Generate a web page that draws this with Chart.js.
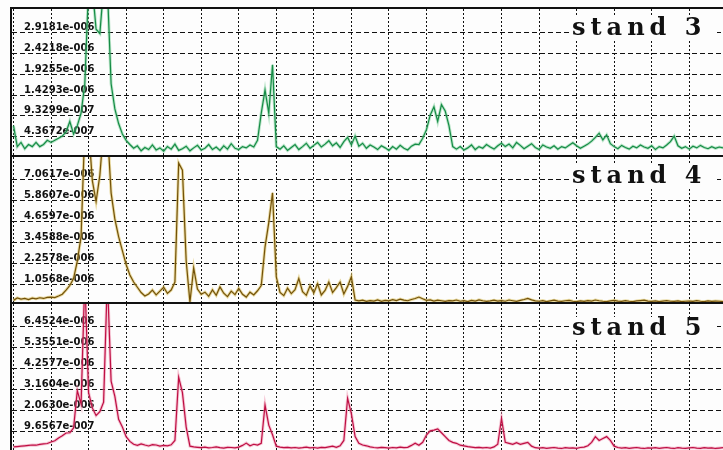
<!DOCTYPE html>
<html lang="en">
<head>
  <meta charset="UTF-8">
  <title>stand 3 / 4 / 5</title>
  <script src="https://cdn.jsdelivr.net/npm/chart.js"></script>
  <style>
    body { margin: 0; background: #fff; }
    #wrap { position: relative; width: 723px; height: 450px; overflow: hidden; background: #fdfdfd; }
    #wrap canvas { position: absolute; left: 12px; }
    .rule { position: absolute; background: #111; }
  </style>
</head>
<body>
<div id="wrap">
  <canvas id="p3" width="711" height="146" style="top:9px"></canvas>
  <canvas id="p4" width="711" height="146" style="top:157px"></canvas>
  <canvas id="p5" width="711" height="146" style="top:304px"></canvas>
  <div class="rule" style="left:10px;top:7px;width:713px;height:2px"></div>
  <div class="rule" style="left:10px;top:7px;width:2px;height:443px"></div>
  <div class="rule" style="left:10px;top:155px;width:713px;height:2px"></div>
  <div class="rule" style="left:10px;top:302px;width:713px;height:2px"></div>
</div>

<script>
// samples are 0.1 grid-divisions apart, 190 per trace, values in units of 1e-7
const SAMPLE_STEP = 0.1;
const UNIT = 1e-7;

const stand3 = [
  7, 2, 3, 1.5, 2.5, 2, 3, 2, 2.5, 3.5,
  3, 3.5, 4, 4.5, 5.5, 8, 5, 7, 10, 17,
  40, 40, 30, 29, 40, 40, 17, 11, 7.5, 5,
  3.5, 2.5, 1.6, 2.2, 1, 1.8, 1.3, 2.4, 1.2, 1.7,
  0.9, 2, 1.4, 2.6, 1.1, 1.5, 2.1, 1, 1.7, 2.3,
  1.2, 1.6, 2.5, 1.3, 1.9, 1.1, 2.2, 1.4, 2.7, 1.6,
  1.3, 2, 1.7, 2.4, 1.9, 3.5, 10, 15.5, 10, 21.5,
  2, 1.4, 2.2, 1.1, 1.8, 2.5, 1.3, 2, 2.8, 1.6,
  2.3, 3, 1.9, 2.6, 3.4, 2.2, 2.9, 1.8, 3.2, 4.2,
  2.4, 4.5, 2.1, 2.8, 1.6, 2.4, 1.9, 1.3, 2.2, 1.7,
  1.1, 2, 1.4, 2.3, 1.6, 1.2, 2.1, 2.6, 2.5, 4,
  6, 9.5, 11.5, 8, 12, 10.5, 7, 2, 1.4, 2,
  1.2, 1.7, 2.4, 1.3, 2, 1.6, 2.5, 1.9, 1.4, 2.2,
  2.8, 2, 2.6, 1.7, 3, 2.3, 1.5, 2.1, 2.7, 1.8,
  1.3, 2.4, 1.9, 1.6, 2.2, 1.4, 2, 1.7, 2.3, 2.9,
  2.2, 1.6, 2.1, 2.6, 3.3, 4.2, 5.2, 3.6, 4.8, 2.7,
  2, 1.5, 2.3, 1.8, 1.4, 2.1, 1.7, 2.4, 1.9, 1.6,
  2.2, 1.3, 2, 1.7, 2.4, 3.2, 4.5, 2.2, 1.6, 2,
  1.4, 2.1, 1.7, 2.3, 1.8, 1.5, 2, 1.6, 1.9, 1.7
];

const stand4 = [
  1.5, 2.9, 2.2, 2.6, 2, 2.8, 2.4, 3, 2.6, 3.2,
  3.4, 3.1, 4, 5, 7.4, 10, 14, 24, 38, 100,
  100, 70, 58, 73, 100, 100, 63, 48, 38, 30,
  22, 16, 12, 9, 6, 4, 5.2, 7.4, 4.6, 6.8,
  9, 5.5, 7.4, 12, 80, 76, 24, 0.5, 20, 8,
  5, 6.2, 3.8, 7.5, 4.4, 9.2, 5.6, 3.6, 6.8, 4.8,
  8.4, 5, 3.4, 6.2, 4.6, 7, 10, 32, 46, 63,
  15, 6, 4.2, 8.5, 5.4, 7.6, 14, 6.5, 4.4, 9.8,
  5.8, 11, 4.6, 7.2, 12, 6, 8.8, 12, 5.2, 9.5,
  15, 1.7, 1.2, 1.6, 0.9, 1.4, 1.1, 1.8, 1, 1.5,
  1.2, 1.9, 1.4, 2.2, 1.6, 1.3, 2, 2.6, 3.4, 2.4,
  1.5, 1.8, 1.1, 1.6, 1.3, 0.9, 1.4, 1.2, 1.7, 1,
  1.3, 0.8, 1.5, 1.1, 1.8, 1.3, 0.9, 1.2, 1.6, 1.1,
  1.4, 1, 1.7, 1.3, 0.9, 1.5, 2, 2.6, 1.8, 1.2,
  1, 1.4, 0.8, 1.2, 1.6, 1.1, 0.9, 1.3, 1.5, 1,
  0.8, 1.2, 0.9, 1.4, 1.1, 1.7, 1.3, 1, 0.8, 1.2,
  1.5, 1.1, 0.9, 1.3, 1, 0.8, 1.2, 1.4, 1.6, 1.1,
  0.9, 1.2, 0.8, 1.1, 1.3, 1, 0.9, 1.2, 0.8, 1,
  1.1, 0.9, 1.3, 1, 0.8, 1.2, 0.9, 1.1, 1, 0.8
];

const stand5 = [
  1.6, 1.8, 2, 2.2, 2.4, 2.6, 2.5, 2.9, 3.2, 3.4,
  4.2, 4.8, 6.3, 7.4, 8.9, 9, 11.5, 31, 24, 90,
  30, 22, 18, 20, 25, 90, 36, 28, 16, 12,
  7, 4.5, 3, 2.4, 3.2, 2.6, 2.1, 2.8, 2.6, 2,
  2.4, 2.2, 2.7, 5, 38, 30, 12, 2, 1.6, 1.4,
  1.2, 1.5, 1.1, 1.3, 1.6, 1.2, 1, 1.4, 1.3, 1.1,
  1.5, 2.4, 3.6, 2.2, 3, 2.6, 3.5, 23.5, 13, 8,
  2, 1.5, 1.2, 1.4, 1.1, 1.3, 1, 1.2, 1.5, 1.1,
  1.3, 1, 1.4, 1.2, 1.6, 2, 1.4, 2.2, 5, 27,
  19, 7, 3.5, 2.6, 2.2, 1.6, 1.3, 1.1, 1.4, 1.2,
  1, 1.3, 1.1, 1.5, 1.2, 1.4, 2.4, 3.5, 2.5, 4,
  7.8, 10, 10.4, 11, 9, 7, 5, 4, 3.5, 2.5,
  2.2, 1.8, 1.5, 1.2, 1.4, 1.1, 1.3, 1, 1.6, 3,
  16.5, 4, 3.5, 3, 3.8, 3, 3.5, 4, 2, 1.2,
  1, 1.2, 0.9, 1.1, 1.3, 1, 0.8, 1.2, 1, 1.1,
  0.9, 1.3, 1.5, 2.2, 4, 7, 5, 6, 7, 5,
  2, 1.3, 1, 1.2, 0.9, 1.1, 1.3, 1, 0.8, 1.1,
  1, 1.2, 0.9, 1.1, 1.3, 1, 0.8, 1.2, 1, 0.9,
  1.1, 1.3, 1, 0.9, 1.2, 1, 1.1, 0.8, 1, 1.2
];

// tick labels printed on each panel
const ticks3 = [4.3672e-7, 9.3299e-7, 1.4293e-6, 1.9255e-6, 2.4218e-6, 2.9181e-6];
const ticks4 = [1.0568e-6, 2.2578e-6, 3.4588e-6, 4.6597e-6, 5.8607e-6, 7.0617e-6];
const ticks5 = [9.6567e-7, 2.0630e-6, 3.1604e-6, 4.2577e-6, 5.3551e-6, 6.4524e-6];

// vertical grid divisions
const xGrid = [0, 1, 2, 3, 4, 5, 6, 7, 8, 9, 10, 11, 12, 13, 14, 15, 16, 17, 18];

function fmtExp(v) {
  // 2.9181e-6 -> 2.9181e-006
  const [m, e] = v.toExponential(4).split('e');
  const sign = e[0] === '-' ? '-' : '+';
  return m + 'e' + sign + e.replace(/[+-]/, '').padStart(3, '0');
}

const panelLabel = {
  id: 'panelLabel',
  afterDraw(chart, args, opts) {
    const ctx = chart.ctx;
    ctx.save();
    ctx.fillStyle = '#fdfdfd';
    ctx.fillRect(opts.x - 3, opts.y - 18, 148, 22);
    ctx.font = 'bold 24px "DejaVu Serif"';
    ctx.letterSpacing = '5px';
    ctx.fillStyle = '#111';
    ctx.textBaseline = 'alphabetic';
    ctx.fillText(opts.text, opts.x, opts.y);
    ctx.restore();
  }
};

function makePanel(id, values, tickVals, yMax, color, halo, label, labelY) {
  const pts = values.map((v, i) => ({ x: i * SAMPLE_STEP, y: v * UNIT }));
  return new Chart(document.getElementById(id), {
    type: 'line',
    data: {
      datasets: [
        // index 0 is painted last, so the dark trace sits over its soft halo
        { data: pts, borderColor: color, borderWidth: 1.2, pointRadius: 0, tension: 0 },
        { data: pts, borderColor: halo, borderWidth: 3, pointRadius: 0, tension: 0 }
      ]
    },
    options: {
      responsive: false,
      animation: false,
      layout: { padding: 0 },
      plugins: {
        legend: { display: false },
        tooltip: { enabled: false },
        panelLabel: { text: label, x: 560, y: labelY }
      },
      scales: {
        x: {
          type: 'linear',
          min: -0.04,
          max: 18.9,
          afterBuildTicks: s => { s.ticks = xGrid.map(v => ({ value: v })); },
          afterFit: s => { s.height = 0; s.paddingLeft = 0; s.paddingRight = 0; },
          ticks: { display: false },
          grid: { color: '#111', lineWidth: 1, drawTicks: false },
          border: { display: false, dash: [2, 2] }
        },
        y: {
          min: 0,
          max: yMax,
          afterBuildTicks: s => { s.ticks = tickVals.map(v => ({ value: v })); },
          afterFit: s => { s.width = 0; s.paddingTop = 0; s.paddingBottom = 0; },
          ticks: {
            mirror: true,
            padding: 12,
            labelOffset: -5,
            color: '#111',
            font: { family: 'DejaVu Sans', size: 10, weight: 'bold' },
            callback: v => fmtExp(v)
          },
          grid: { color: '#111', lineWidth: 1, drawTicks: false },
          border: { display: false, dash: [5, 3] }
        }
      }
    },
    plugins: [panelLabel]
  });
}

makePanel('p3', stand3, ticks3, 3.4834e-6, 'rgb(22,140,70)', 'rgba(120,205,150,0.5)', 'stand 3', 26);
makePanel('p4', stand4, ticks4, 8.349e-6, 'rgb(115,82,10)', 'rgba(220,195,100,0.6)', 'stand 4', 26);
makePanel('p5', stand5, ticks5, 7.629e-6, 'rgb(190,15,68)', 'rgba(240,140,170,0.5)', 'stand 5', 31);
</script>
</body>
</html>
